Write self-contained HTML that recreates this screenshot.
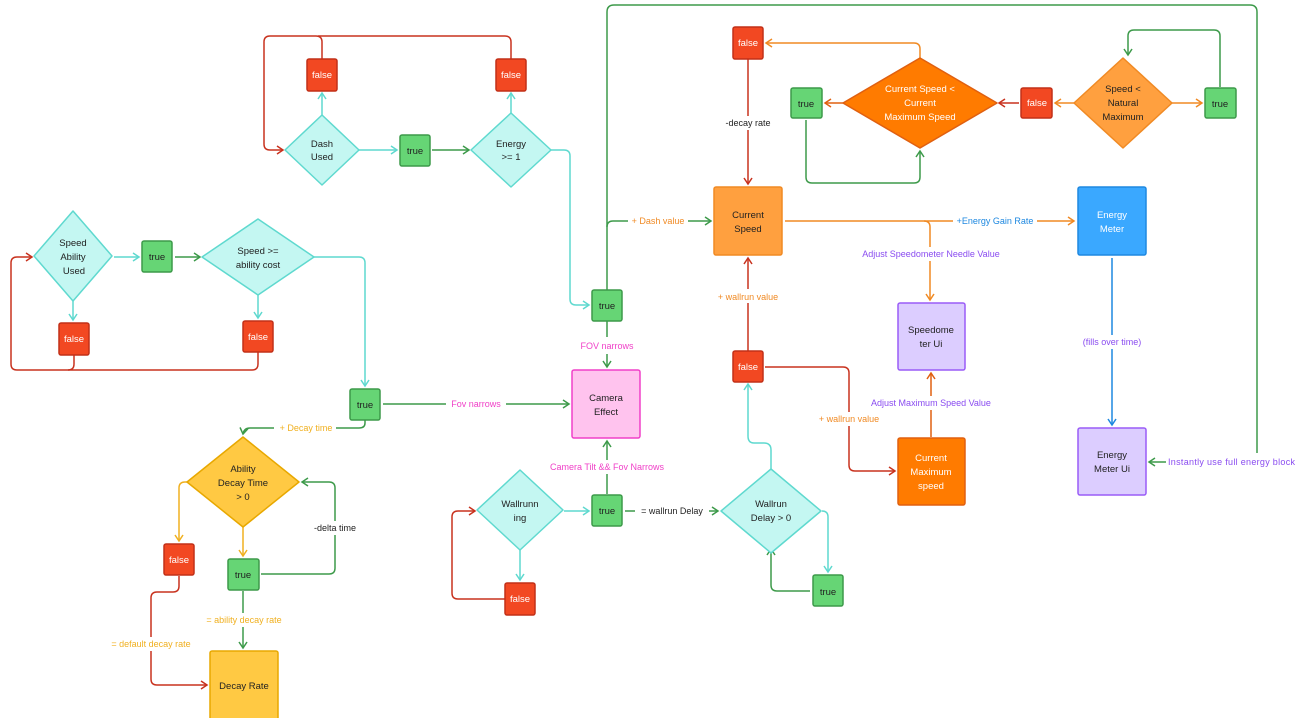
<!DOCTYPE html>
<html><head><meta charset="utf-8"><style>
html,body{margin:0;padding:0;background:#fff;}
svg{display:block;font-family:"Liberation Sans",sans-serif;}
</style></head><body>
<svg width="1306" height="718" viewBox="0 0 1306 718" xmlns="http://www.w3.org/2000/svg">
<defs>
<marker id="ar" markerWidth="10" markerHeight="10" refX="8" refY="5" orient="auto" markerUnits="userSpaceOnUse"><path d="M2,1 L8,5 L2,9" fill="none" stroke="#c8321e" stroke-width="1.5"/></marker>
<marker id="ac" markerWidth="10" markerHeight="10" refX="8" refY="5" orient="auto" markerUnits="userSpaceOnUse"><path d="M2,1 L8,5 L2,9" fill="none" stroke="#5fd9cf" stroke-width="1.5"/></marker>
<marker id="ag" markerWidth="10" markerHeight="10" refX="8" refY="5" orient="auto" markerUnits="userSpaceOnUse"><path d="M2,1 L8,5 L2,9" fill="none" stroke="#3d9a4a" stroke-width="1.5"/></marker>
<marker id="ao" markerWidth="10" markerHeight="10" refX="8" refY="5" orient="auto" markerUnits="userSpaceOnUse"><path d="M2,1 L8,5 L2,9" fill="none" stroke="#f08a24" stroke-width="1.5"/></marker>
<marker id="ay" markerWidth="10" markerHeight="10" refX="8" refY="5" orient="auto" markerUnits="userSpaceOnUse"><path d="M2,1 L8,5 L2,9" fill="none" stroke="#f0b020" stroke-width="1.5"/></marker>
<marker id="ab" markerWidth="10" markerHeight="10" refX="8" refY="5" orient="auto" markerUnits="userSpaceOnUse"><path d="M2,1 L8,5 L2,9" fill="none" stroke="#1e88e0" stroke-width="1.5"/></marker>
<marker id="ad" markerWidth="10" markerHeight="10" refX="8" refY="5" orient="auto" markerUnits="userSpaceOnUse"><path d="M2,1 L8,5 L2,9" fill="none" stroke="#e06010" stroke-width="1.5"/></marker>
</defs>

<g fill="none" stroke-width="1.5">
<path d="M322,59 V42 Q322,36 316,36 H270 Q264,36 264,42 V144 Q264,150 270,150 H283" stroke="#c8321e" marker-end="url(#ar)"/>
<path d="M511,59 V42 Q511,36 505,36 H318" stroke="#c8321e"/>
<path d="M322,115 V93" stroke="#5fd9cf" marker-end="url(#ac)"/>
<path d="M511,113 V93" stroke="#5fd9cf" marker-end="url(#ac)"/>
<path d="M359,150 H397" stroke="#5fd9cf" marker-end="url(#ac)"/>
<path d="M432,150 H469" stroke="#3d9a4a" marker-end="url(#ag)"/>
<path d="M551,150 H564 Q570,150 570,156 V299 Q570,305 576,305 H589" stroke="#5fd9cf" marker-end="url(#ac)"/>
<path d="M607,290 V12 Q607,5 614,5 H1250 Q1257,5 1257,12 V472" stroke="#3d9a4a"/>
<path d="M1166,462 H1149" stroke="#3d9a4a" marker-end="url(#ag)"/>
<path d="M607,227 Q607,221 613,221 H628" stroke="#3d9a4a"/>
<path d="M688,221 H711" stroke="#3d9a4a" marker-end="url(#ag)"/>
<path d="M607,321 V337 M607,354 V367" stroke="#3d9a4a" marker-end="url(#ag)"/>
<path d="M74,355 V364 Q74,370 68,370 H17 Q11,370 11,364 V263 Q11,257 17,257 H32" stroke="#c8321e" marker-end="url(#ar)"/>
<path d="M258,352 V364 Q258,370 252,370 H68" stroke="#c8321e"/>
<path d="M73,301 V320" stroke="#5fd9cf" marker-end="url(#ac)"/>
<path d="M258,295 V318" stroke="#5fd9cf" marker-end="url(#ac)"/>
<path d="M114,257 H139" stroke="#5fd9cf" marker-end="url(#ac)"/>
<path d="M175,257 H200" stroke="#3d9a4a" marker-end="url(#ag)"/>
<path d="M313,257 H359 Q365,257 365,263 V386" stroke="#5fd9cf" marker-end="url(#ac)"/>
<path d="M383,404 H569" stroke="#3d9a4a" marker-end="url(#ag)"/>
<path d="M365,420 V423 Q365,428 359,428 H250 Q244,428 243,434" stroke="#3d9a4a" marker-end="url(#ag)"/>
<path d="M189,482 H185 Q179,482 179,488 V541" stroke="#f0b020" marker-end="url(#ay)"/>
<path d="M243,527 V556" stroke="#f0b020" marker-end="url(#ay)"/>
<path d="M261,574 H329 Q335,574 335,568 V488 Q335,482 329,482 H302" stroke="#3d9a4a" marker-end="url(#ag)"/>
<path d="M243,591 V648" stroke="#3d9a4a" marker-end="url(#ag)"/>
<path d="M179,576 V586 Q179,592 173,592 H157 Q151,592 151,598 V679 Q151,685 157,685 H207" stroke="#c8321e" marker-end="url(#ar)"/>
<path d="M505,599 H458 Q452,599 452,593 V517 Q452,511 458,511 H475" stroke="#c8321e" marker-end="url(#ar)"/>
<path d="M520,550 V580" stroke="#5fd9cf" marker-end="url(#ac)"/>
<path d="M564,511 H589" stroke="#5fd9cf" marker-end="url(#ac)"/>
<path d="M607,494 V441" stroke="#3d9a4a" marker-end="url(#ag)"/>
<path d="M625,511 H718" stroke="#3d9a4a" marker-end="url(#ag)"/>
<path d="M822,511 Q828,511 828,517 V572" stroke="#5fd9cf" marker-end="url(#ac)"/>
<path d="M810,591 H777 Q771,591 771,585 V549" stroke="#3d9a4a" marker-end="url(#ag)"/>
<path d="M771,469 V450 Q771,443 764,443 H754 Q748,443 748,436 V384" stroke="#5fd9cf" marker-end="url(#ac)"/>
<path d="M748,351 V258" stroke="#c8321e" marker-end="url(#ar)"/>
<path d="M765,367 H843 Q849,367 849,373 V465 Q849,471 855,471 H895" stroke="#c8321e" marker-end="url(#ar)"/>
<path d="M931,437 V373" stroke="#e06010" marker-end="url(#ad)"/>
<path d="M748,59 V184" stroke="#c8321e" marker-end="url(#ar)"/>
<path d="M920,58 V49 Q920,43 914,43 H766" stroke="#f08a24" marker-end="url(#ao)"/>
<path d="M843,103 H825" stroke="#e06010" marker-end="url(#ad)"/>
<path d="M806,120 V177 Q806,183 812,183 H914 Q920,183 920,177 V151" stroke="#3d9a4a" marker-end="url(#ag)"/>
<path d="M1019,103 H999" stroke="#c8321e" marker-end="url(#ar)"/>
<path d="M1074,103 H1055" stroke="#f08a24" marker-end="url(#ao)"/>
<path d="M1172,103 H1202" stroke="#f08a24" marker-end="url(#ao)"/>
<path d="M1220,87 V36 Q1220,30 1214,30 H1134 Q1128,30 1128,36 V55" stroke="#3d9a4a" marker-end="url(#ag)"/>
<path d="M785,221 H1074" stroke="#f08a24" marker-end="url(#ao)"/>
<path d="M924,221 Q930,221 930,227 V300" stroke="#f08a24" marker-end="url(#ao)"/>
<path d="M1112,258 V425" stroke="#1e88e0" marker-end="url(#ab)"/>
</g>

<g fill="#fff">
<rect x="575" y="339" width="64" height="13"/>
<rect x="628" y="214" width="60" height="14"/>
<rect x="446" y="397" width="60" height="14"/>
<rect x="274" y="421" width="62" height="14"/>
<rect x="306" y="521" width="56" height="14"/>
<rect x="200" y="613" width="88" height="14"/>
<rect x="104" y="637" width="94" height="14"/>
<rect x="543" y="460" width="126" height="14"/>
<rect x="635" y="504" width="74" height="14"/>
<rect x="713" y="289" width="70" height="14"/>
<rect x="815" y="412" width="68" height="14"/>
<rect x="866" y="396" width="130" height="14"/>
<rect x="720" y="116" width="56" height="14"/>
<rect x="953" y="214" width="84" height="14"/>
<rect x="855" y="247" width="150" height="14"/>
<rect x="1078" y="335" width="68" height="14"/>
<rect x="1166" y="453" width="136" height="20"/>
</g>

<g stroke-width="1.5" stroke-linejoin="round">
<polygon points="322,115 359,150 322,185 285,150" fill="#c4f7f2" stroke="#5fd9cf"/>
<polygon points="511,113 551,150 511,187 471,150" fill="#c4f7f2" stroke="#5fd9cf"/>
<polygon points="73,211 112,256 73,301 34,256" fill="#c4f7f2" stroke="#5fd9cf"/>
<polygon points="258,219 314,257 258,295 202,257" fill="#c4f7f2" stroke="#5fd9cf"/>
<polygon points="243,437 299,482 243,527 187,482" fill="#ffc943" stroke="#e8a800"/>
<polygon points="520,470 563,510 520,550 477,510" fill="#c4f7f2" stroke="#5fd9cf"/>
<polygon points="771,469 821,511 771,553 721,511" fill="#c4f7f2" stroke="#5fd9cf"/>
<polygon points="920,58 997,103 920,148 843,103" fill="#ff7b00" stroke="#e06010"/>
<polygon points="1123,58 1172,103 1123,148 1074,103" fill="#ffa03f" stroke="#f08a24"/>
</g>

<g stroke-width="1.5">
<g fill="#f24822" stroke="#c23018">
<rect x="307" y="59" width="30" height="32" rx="2"/>
<rect x="496" y="59" width="30" height="32" rx="2"/>
<rect x="59" y="323" width="30" height="32" rx="2"/>
<rect x="243" y="321" width="30" height="31" rx="2"/>
<rect x="164" y="544" width="30" height="31" rx="2"/>
<rect x="505" y="583" width="30" height="32" rx="2"/>
<rect x="733" y="351" width="30" height="31" rx="2"/>
<rect x="733" y="27" width="30" height="32" rx="2"/>
<rect x="1021" y="88" width="31" height="30" rx="2"/>
</g>
<g fill="#66d575" stroke="#3d9a4a">
<rect x="400" y="135" width="30" height="31" rx="2"/>
<rect x="142" y="241" width="30" height="31" rx="2"/>
<rect x="350" y="389" width="30" height="31" rx="2"/>
<rect x="228" y="559" width="31" height="31" rx="2"/>
<rect x="592" y="290" width="30" height="31" rx="2"/>
<rect x="592" y="495" width="30" height="31" rx="2"/>
<rect x="813" y="575" width="30" height="31" rx="2"/>
<rect x="791" y="88" width="31" height="30" rx="2"/>
<rect x="1205" y="88" width="31" height="30" rx="2"/>
</g>
<rect x="572" y="370" width="68" height="68" rx="2" fill="#ffc3ee" stroke="#f040c8"/>
<rect x="210" y="651" width="68" height="75" rx="2" fill="#ffc943" stroke="#e8a800"/>
<rect x="714" y="187" width="68" height="68" rx="2" fill="#ffa03f" stroke="#f08a24"/>
<rect x="898" y="438" width="67" height="67" rx="2" fill="#ff7b00" stroke="#e06010"/>
<rect x="898" y="303" width="67" height="67" rx="2" fill="#dccdff" stroke="#9a5cf7"/>
<rect x="1078" y="187" width="68" height="68" rx="2" fill="#3aa8ff" stroke="#1e88e0"/>
<rect x="1078" y="428" width="68" height="67" rx="2" fill="#dccdff" stroke="#9a5cf7"/>
</g>

<g font-size="9.5" text-anchor="middle" fill="#222">
<g fill="#fff">
<text x="322" y="78">false</text><text x="511" y="78">false</text>
<text x="74" y="342">false</text><text x="258" y="340">false</text>
<text x="179" y="563">false</text><text x="520" y="602">false</text>
<text x="748" y="370">false</text><text x="748" y="46">false</text>
<text x="1037" y="106">false</text>
</g>
<text x="415" y="154">true</text><text x="157" y="260">true</text>
<text x="365" y="408">true</text><text x="243" y="578">true</text>
<text x="607" y="309">true</text><text x="607" y="514">true</text>
<text x="828" y="595">true</text><text x="806" y="107">true</text>
<text x="1220" y="107">true</text>
<text x="322" y="147">Dash</text><text x="322" y="160">Used</text>
<text x="511" y="147">Energy</text><text x="511" y="160">&gt;= 1</text>
<text x="73" y="246">Speed</text><text x="73" y="260">Ability</text><text x="74" y="274">Used</text>
<text x="258" y="254">Speed &gt;=</text><text x="258" y="268">ability cost</text>
<text x="243" y="472">Ability</text><text x="243" y="486">Decay Time</text><text x="243" y="500">&gt; 0</text>
<text x="520" y="507">Wallrunn</text><text x="520" y="521">ing</text>
<text x="771" y="507">Wallrun</text><text x="771" y="521">Delay &gt; 0</text>
<text x="606" y="401">Camera</text><text x="606" y="415">Effect</text>
<text x="244" y="689">Decay Rate</text>
<text x="748" y="218">Current</text><text x="748" y="232">Speed</text>
<text x="931" y="333">Speedome</text><text x="931" y="347">ter Ui</text>
<text x="1112" y="458">Energy</text><text x="1112" y="472">Meter Ui</text>
<g fill="#fff">
<text x="931" y="461">Current</text><text x="931" y="475">Maximum</text><text x="931" y="489">speed</text>
<text x="1112" y="218">Energy</text><text x="1112" y="232">Meter</text>
<text x="920" y="92">Current Speed &lt;</text><text x="920" y="106">Current</text><text x="920" y="120">Maximum Speed</text>
</g>
<text x="1123" y="92">Speed &lt;</text><text x="1123" y="106">Natural</text><text x="1123" y="120">Maximum</text>
</g>

<g font-size="9" text-anchor="middle">
<text x="607" y="349" fill="#f040c8">FOV narrows</text>
<text x="658" y="224" fill="#f08a24">+ Dash value</text>
<text x="476" y="407" fill="#f040c8">Fov narrows</text>
<text x="306" y="431" fill="#f0b020">+ Decay time</text>
<text x="335" y="531" fill="#222">-delta time</text>
<text x="244" y="623" fill="#f0b020">= ability decay rate</text>
<text x="151" y="647" fill="#f0b020">= default decay rate</text>
<text x="607" y="470" fill="#f040c8">Camera Tilt &amp;&amp; Fov Narrows</text>
<text x="672" y="514" fill="#222">= wallrun Delay</text>
<text x="748" y="300" fill="#f08a24">+ wallrun value</text>
<text x="849" y="422" fill="#f08a24">+ wallrun value</text>
<text x="931" y="406" fill="#8a4cf0">Adjust Maximum Speed Value</text>
<text x="748" y="126" fill="#222">-decay rate</text>
<text x="995" y="224" fill="#1e88e0">+Energy Gain Rate</text>
<text x="931" y="257" fill="#8a4cf0">Adjust Speedometer Needle Value</text>
<text x="1112" y="345" fill="#8a4cf0">(fills over time)</text>
<text x="1168" y="465" fill="#8a4cf0" text-anchor="start" textLength="127">Instantly use full energy block</text>
</g>
</svg>
</body></html>
